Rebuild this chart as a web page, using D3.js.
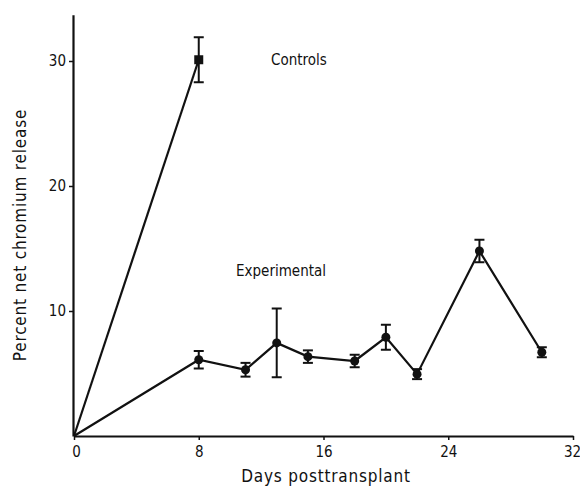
<!DOCTYPE html>
<html><head><meta charset="utf-8">
<script src="https://cdn.jsdelivr.net/npm/d3@7"></script>
<style>
body{margin:0;background:#fff;}
text{font-family:"DejaVu Sans Condensed","Liberation Sans Narrow","Liberation Sans",sans-serif;font-stretch:condensed;fill:#111;}
</style></head>
<body><svg id="c" width="580" height="489"></svg>
<script>
const xTicks = [0, 8, 16, 24, 32];
const yTicks = [10, 20, 30];

const controlDays = [0, 8];
const controlValues = [0, 30.1];
const controlErr = [0, 1.8];

const expDays = [0, 8, 11, 13, 15, 18, 20, 22, 26, 30];
const expValues = [0, 6.1, 5.3, 7.45, 6.35, 6.0, 7.9, 4.95, 14.8, 6.7];
const expErr = [0, 0.7, 0.55, 2.75, 0.5, 0.5, 1.0, 0.4, 0.9, 0.4];

const svg = d3.select("#c");
const x = d3.scaleLinear().domain([0, 32]).range([74, 573]);
const y = d3.scaleLinear().domain([0, 10]).range([436, 311]);
const yTop = y(33.7);

// axes
const xAxis = svg.append("g").attr("transform", `translate(0,${y(0)})`)
  .call(d3.axisBottom(x).tickValues(xTicks).tickSize(4).tickSizeOuter(0).tickPadding(4));
const yAxis = svg.append("g").attr("transform", `translate(${x(0)-1},0)`)
  .call(d3.axisLeft(y.copy().domain([0,33.7]).range([436, yTop])).tickValues(yTicks).tickSize(4).tickSizeOuter(0).tickPadding(3));
[xAxis, yAxis].forEach(a => {
  a.select(".domain").attr("stroke", "#111").attr("stroke-width", 2.2);
  a.selectAll(".tick line").attr("stroke", "#111").attr("stroke-width", 1.5);
  a.selectAll(".tick text").attr("font-size", 15).attr("font-weight", 500)
    .style("font-family", '"DejaVu Sans Condensed","Liberation Sans Narrow",sans-serif').attr("fill", "#111");
});
xAxis.selectAll(".tick text").attr("dy", "0.85em");
xAxis.select(".tick text").attr("x", 2);
xAxis.selectAll(".tick text").filter(d => d === 32).attr("x", -1);

const line = d3.line().x(d => x(d[0])).y(d => y(d[1]));

function drawSeries(days, vals, errs, shape) {
  const pts = days.map((d, i) => [d, vals[i], errs[i]]);
  svg.append("path").datum(pts).attr("d", line).attr("fill", "none")
    .attr("stroke", "#111").attr("stroke-width", 2.2);
  const eb = svg.append("g");
  pts.filter(p => p[2] > 0).forEach(p => {
    const cx = x(p[0]), t = y(p[1] + p[2]), b = y(p[1] - p[2]);
    eb.append("line").attr("x1", cx).attr("x2", cx).attr("y1", t).attr("y2", b).attr("stroke", "#111").attr("stroke-width", 2);
    [t, b].forEach(yy => eb.append("line").attr("x1", cx - 5).attr("x2", cx + 5).attr("y1", yy).attr("y2", yy).attr("stroke", "#111").attr("stroke-width", 2));
  });
  pts.filter(p => p[0] > 0).forEach(p => {
    if (shape === "square") {
      svg.append("rect").attr("x", x(p[0]) - 4.5).attr("y", y(p[1]) - 4.5).attr("width", 9).attr("height", 9).attr("fill", "#111");
    } else {
      svg.append("circle").attr("cx", x(p[0])).attr("cy", y(p[1])).attr("r", 4.5).attr("fill", "#111");
    }
  });
}
drawSeries(controlDays, controlValues, controlErr, "square");
drawSeries(expDays, expValues, expErr, "circle");

svg.append("text").attr("x", 271).attr("y", 65).attr("font-size", 15).attr("font-weight", 500).text("Controls");
svg.append("text").attr("x", 236).attr("y", 276).attr("font-size", 15).attr("font-weight", 500).text("Experimental");

svg.append("text").attr("x", 326).attr("y", 482).attr("text-anchor", "middle").attr("font-size", 17)
  .attr("letter-spacing", 0.8).text("Days posttransplant");
svg.append("text").attr("transform", "translate(26,235) rotate(-90)").attr("text-anchor", "middle")
  .attr("font-size", 17).attr("letter-spacing", 0.8).text("Percent net chromium release");
</script></body></html>
